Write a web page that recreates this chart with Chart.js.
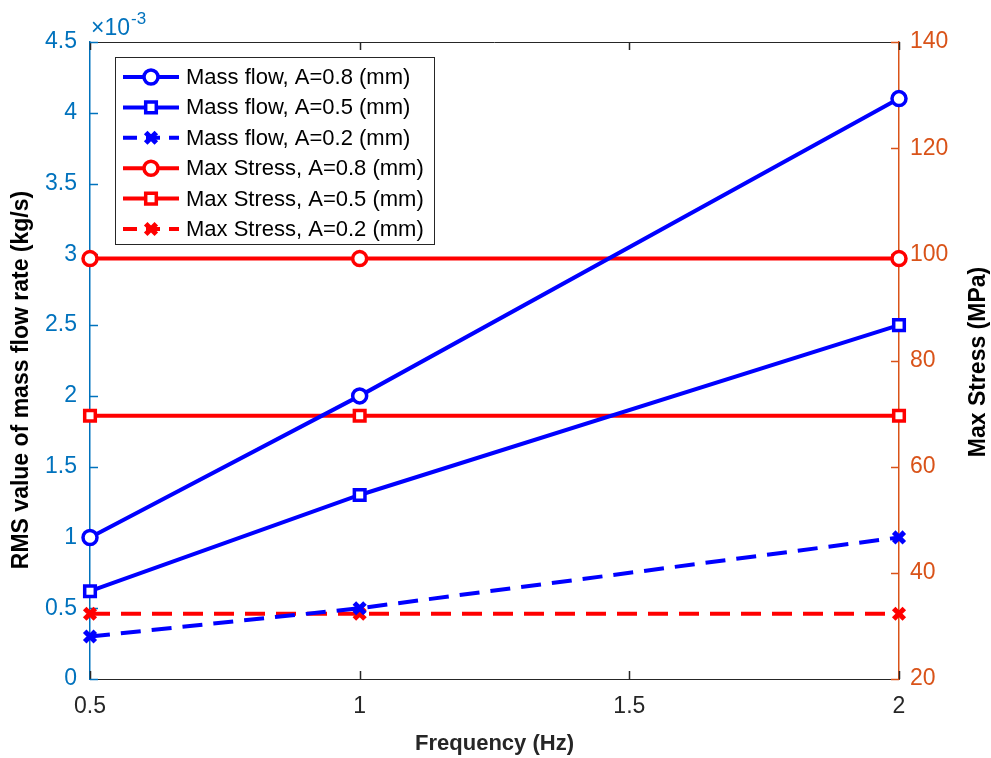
<!DOCTYPE html>
<html><head><meta charset="utf-8">
<script src="https://cdn.jsdelivr.net/npm/chart.js@4.4.1/dist/chart.umd.min.js"></script>
<style>html,body{margin:0;padding:0;background:#fff}#wrap{width:991px;height:758px}</style>
</head><body><div id="wrap"><canvas id="c" width="991" height="758"></canvas></div>
<script>
// ---- data ----
const frequency = [0.5, 1, 2];
const massFlow08 = [1.0, 2.0, 4.1];      // x 10^-3 kg/s
const massFlow05 = [0.62, 1.3, 2.5];
const massFlow02 = [0.3, 0.5, 1.0];
const stress08 = [99.2, 99.2, 99.2];     // MPa
const stress05 = [69.6, 69.6, 69.6];
const stress02 = [32.3, 32.3, 32.3];
const seriesLabels = [
  'Mass flow, A=0.8 (mm)', 'Mass flow, A=0.5 (mm)', 'Mass flow, A=0.2 (mm)',
  'Max Stress, A=0.8 (mm)', 'Max Stress, A=0.5 (mm)', 'Max Stress, A=0.2 (mm)'
];
const xTicks = [0.5, 1, 1.5, 2];
const leftTicks = [0, 0.5, 1, 1.5, 2, 2.5, 3, 3.5, 4, 4.5];
const rightTicks = [20, 40, 60, 80, 100, 120, 140];
const leftTitle = 'RMS value of mass flow rate (kg/s)';
const rightTitle = 'Max Stress (MPa)';
const xTitle = 'Frequency (Hz)';
const exponentBase = '\u00D710';
const exponentPow = '-3';

const BLUE = '#0000FF', RED = '#FF0000';
const LEFT_C = '#0072BD', RIGHT_C = '#D95319', AX_C = '#262626';
const FONT = "'Liberation Sans', Arial, Helvetica, sans-serif";
Chart.defaults.font.family = FONT;

function pts(ys) { return frequency.map((x, i) => ({x: x, y: ys[i]})); }
function ds(label, ys, color, style, dashed, axis) {
  const rect = style === 'rect', cross = style === 'crossRot';
  return {
    label: label, data: pts(ys), yAxisID: axis,
    borderColor: color, backgroundColor: color, borderWidth: 4,
    borderDash: dashed ? [20, 11] : [],
    pointStyle: style,
    pointRadius: cross ? 7.5 : (rect ? 7.5 : 7),
    pointBorderWidth: cross ? 5 : 3.5,
    pointBackgroundColor: cross ? color : '#ffffff',
    pointBorderColor: color,
    tension: 0, clip: false
  };
}
const datasets = [
  ds(seriesLabels[0], massFlow08, BLUE, 'circle', false, 'y'),
  ds(seriesLabels[1], massFlow05, BLUE, 'rect', false, 'y'),
  ds(seriesLabels[2], massFlow02, BLUE, 'crossRot', true, 'y'),
  ds(seriesLabels[3], stress08, RED, 'circle', false, 'y2'),
  ds(seriesLabels[4], stress05, RED, 'rect', false, 'y2'),
  ds(seriesLabels[5], stress02, RED, 'crossRot', true, 'y2')
];

const decor = {
  id: 'decor',
  beforeDatasetsDraw(chart) {
    const ctx = chart.ctx, a = chart.chartArea;
    const sx = chart.scales.x, sy = chart.scales.y, sy2 = chart.scales.y2;
    ctx.save();
    ctx.strokeStyle = AX_C; ctx.lineWidth = 1;
    ctx.beginPath(); ctx.moveTo(a.left, a.top + 0.5); ctx.lineTo(a.right, a.top + 0.5); ctx.stroke();
    ctx.lineWidth = 1.5;
    xTicks.forEach(v => {
      const px = Math.round(sx.getPixelForValue(v)) + 0.5;
      ctx.beginPath();
      ctx.moveTo(px, a.bottom); ctx.lineTo(px, a.bottom - 8);
      ctx.moveTo(px, a.top); ctx.lineTo(px, a.top + 8);
      ctx.stroke();
    });
    ctx.strokeStyle = LEFT_C;
    leftTicks.forEach(v => {
      const py = Math.round(sy.getPixelForValue(v)) + 0.5;
      ctx.beginPath(); ctx.moveTo(a.left, py); ctx.lineTo(a.left + 8, py); ctx.stroke();
    });
    ctx.strokeStyle = RIGHT_C;
    rightTicks.forEach(v => {
      const py = Math.round(sy2.getPixelForValue(v)) + 0.5;
      ctx.beginPath(); ctx.moveTo(a.right, py); ctx.lineTo(a.right - 8, py); ctx.stroke();
    });
    ctx.restore();
  },
  afterDraw(chart) {
    const ctx = chart.ctx, a = chart.chartArea;
    ctx.save();
    ctx.fillStyle = LEFT_C;
    ctx.textBaseline = 'alphabetic'; ctx.textAlign = 'left';
    ctx.font = '23px ' + FONT;
    ctx.fillText(exponentBase, a.left + 1, 35);
    const w = ctx.measureText(exponentBase).width;
    ctx.font = '17px ' + FONT;
    ctx.fillText(exponentPow, a.left + 2 + w, 24);
    ctx.fillStyle = '#000';
    ctx.font = 'bold 23px ' + FONT;
    ctx.textAlign = 'center'; ctx.textBaseline = 'middle';
    ctx.save(); ctx.translate(22, 380); ctx.rotate(-Math.PI / 2); ctx.fillText(leftTitle, 0, 0); ctx.restore();
    ctx.save(); ctx.translate(979, 362); ctx.rotate(-Math.PI / 2); ctx.fillText(rightTitle, 0, 0); ctx.restore();
    const bx = 115, by = 57, bw = 319, bh = 187;
    ctx.fillStyle = '#fff'; ctx.fillRect(bx, by, bw, bh);
    ctx.strokeStyle = AX_C; ctx.lineWidth = 1;
    ctx.strokeRect(bx + 0.5, by + 0.5, bw, bh);
    chart.data.datasets.forEach((d, i) => {
      const yy = 77 + i * 30.4;
      ctx.save();
      ctx.strokeStyle = d.borderColor; ctx.lineWidth = d.borderWidth;
      ctx.setLineDash(d.borderDash.length ? [14, 9] : []);
      ctx.beginPath(); ctx.moveTo(123, yy); ctx.lineTo(179, yy); ctx.stroke();
      ctx.setLineDash([]);
      ctx.fillStyle = d.pointBackgroundColor; ctx.strokeStyle = d.pointBorderColor;
      ctx.lineWidth = d.pointBorderWidth;
      Chart.helpers.drawPoint(ctx, {pointStyle: d.pointStyle, radius: d.pointRadius, borderWidth: d.pointBorderWidth, rotation: 0}, 151, yy);
      ctx.restore();
      ctx.fillStyle = '#000'; ctx.font = '22px ' + FONT;
      ctx.textAlign = 'left'; ctx.textBaseline = 'middle';
      ctx.fillText(d.label, 186, yy + 1);
    });
    ctx.restore();
  }
};

const fmt = v => String(v);

new Chart(document.getElementById('c'), {
  type: 'line',
  data: { datasets: datasets },
  options: {
    responsive: false, animation: false, devicePixelRatio: 1,
    layout: { padding: { top: 42, left: 0, right: 0, bottom: 0 } },
    plugins: { legend: { display: false }, tooltip: { enabled: false } },
    scales: {
      x: {
        type: 'linear', position: 'bottom', min: 0.5, max: 2,
        afterBuildTicks: s => { s.ticks = xTicks.map(v => ({ value: v })); },
        ticks: { color: AX_C, font: { size: 23 }, padding: 14, maxRotation: 0, autoSkip: false, callback: fmt },
        grid: { display: true, drawOnChartArea: false, drawTicks: false },
        border: { color: AX_C, width: 1 },
        title: { display: true, text: xTitle, color: AX_C, font: { size: 22, weight: 'bold' }, padding: { top: 0, bottom: 1 } },
        afterFit: s => { s.height = 79; }
      },
      y: {
        type: 'linear', position: 'left', min: 0, max: 4.5,
        afterBuildTicks: s => { s.ticks = leftTicks.map(v => ({ value: v })); },
        ticks: { color: LEFT_C, font: { size: 23 }, padding: 13, autoSkip: false, callback: fmt },
        grid: { display: true, drawOnChartArea: false, drawTicks: false },
        border: { color: LEFT_C, width: 1.5 },
        afterFit: s => { s.width = 90; }
      },
      y2: {
        type: 'linear', position: 'right', min: 20, max: 140,
        afterBuildTicks: s => { s.ticks = rightTicks.map(v => ({ value: v })); },
        ticks: { color: RIGHT_C, font: { size: 23 }, padding: 11, autoSkip: false, callback: fmt },
        grid: { display: true, drawOnChartArea: false, drawTicks: false },
        border: { color: RIGHT_C, width: 1.5 },
        afterFit: s => { s.width = 92; }
      }
    }
  },
  plugins: [decor]
});
</script></body></html>
